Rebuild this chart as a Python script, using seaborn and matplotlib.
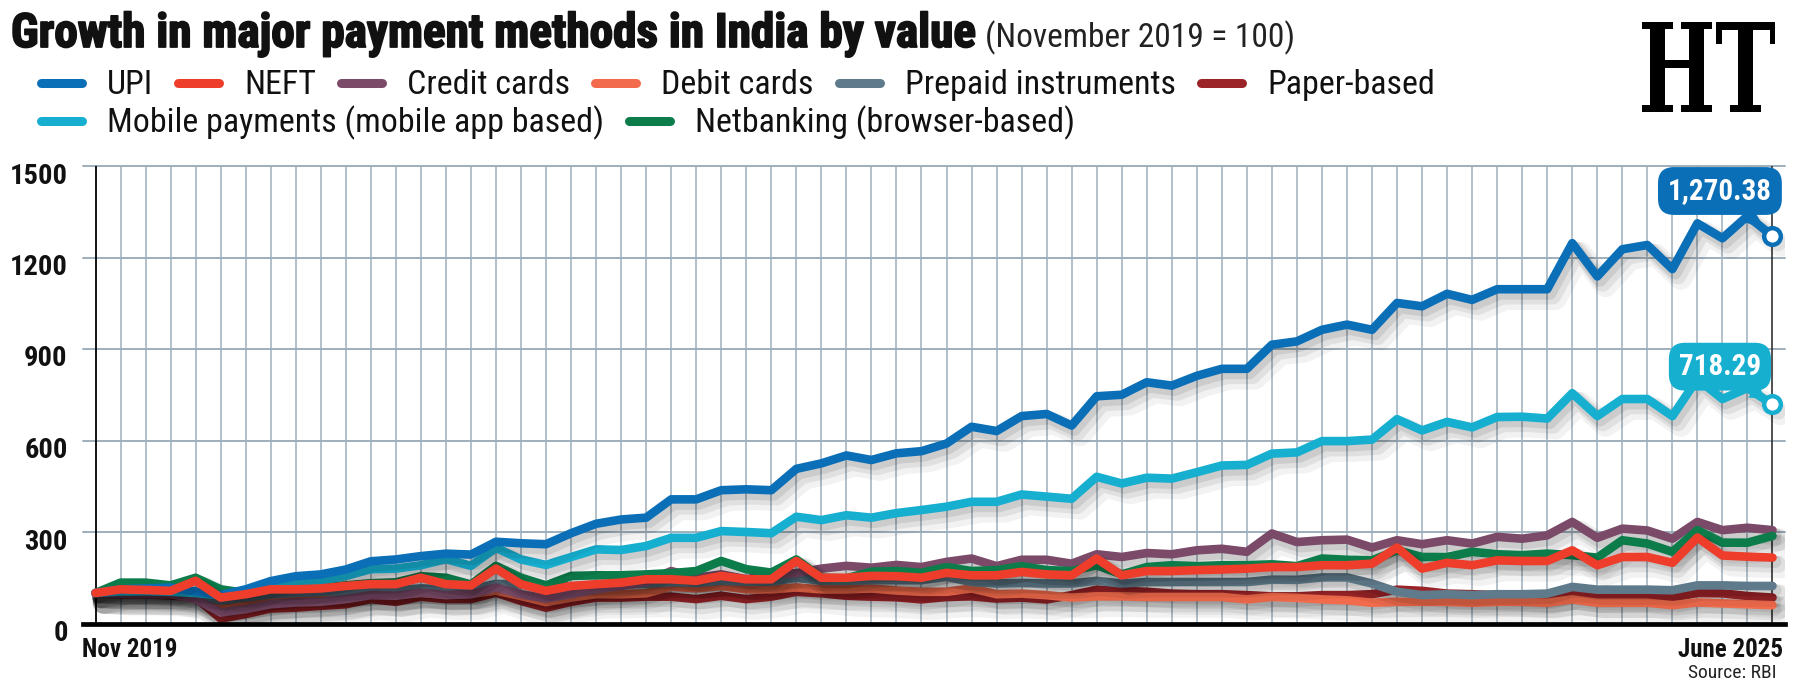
import numpy as np
import pandas as pd
import matplotlib
matplotlib.use("Agg")
import matplotlib.pyplot as plt
import matplotlib.patheffects as pe
import matplotlib.transforms as mtransforms
from matplotlib import font_manager
from matplotlib.lines import Line2D
from matplotlib.textpath import TextPath
from matplotlib.patches import PathPatch
import seaborn as sns

# monthly index, Nov 2019 = 100
months = pd.date_range("2019-11-01", "2025-06-01", freq="MS")

upi = [100, 112, 115, 118, 105, 93, 112, 139, 155, 161,
       177, 204, 210, 221, 229, 226, 268, 263, 260, 296,
       327, 341, 347, 407, 407, 437, 440, 437, 507, 525,
       551, 536, 558, 565, 590, 645, 631, 680, 687, 649,
       745, 750, 791, 780, 812, 835, 835, 914, 925, 963,
       980, 963, 1051, 1040, 1081, 1061, 1096, 1096, 1096, 1247,
       1138, 1227, 1241, 1162, 1312, 1263, 1336, 1270.38]
neft = [100, 112, 110, 107, 140, 85, 96, 112, 112, 115,
        123, 129, 129, 150, 129, 125, 180, 129, 107, 123,
        129, 134, 145, 145, 140, 156, 145, 145, 205, 150,
        150, 156, 155, 150, 166, 158, 158, 169, 161, 158,
        213, 158, 172, 172, 175, 177, 180, 185, 185, 191,
        191, 196, 249, 180, 199, 191, 207, 205, 205, 240,
        191, 218, 218, 199, 282, 223, 219, 216]
credit = [100, 96, 96, 96, 80, 36, 47, 63, 69, 71,
          80, 93, 91, 101, 93, 96, 118, 96, 82, 96,
          112, 123, 136, 172, 150, 161, 145, 161, 165, 180,
          189, 183, 192, 185, 202, 213, 188, 209, 209, 196,
          227, 218, 231, 227, 240, 245, 235, 295, 267, 273,
          275, 249, 273, 260, 273, 262, 284, 278, 289, 333,
          281, 311, 305, 278, 333, 306, 314, 306]
debit = [100, 98, 98, 97, 90, 55, 65, 78, 85, 88,
         90, 95, 95, 100, 95, 97, 108, 90, 70, 85,
         96, 96, 99, 121, 115, 123, 112, 112, 118, 112,
         112, 115, 108, 104, 104, 115, 96, 98, 93, 85,
         89, 89, 87, 87, 87, 87, 79, 87, 84, 79,
         76, 68, 71, 71, 71, 68, 71, 71, 68, 79,
         68, 68, 68, 60, 69, 66, 63, 60]
prepaid = [100, 100, 98, 97, 95, 75, 85, 95, 100, 103,
           105, 110, 110, 115, 112, 112, 130, 128, 120, 122,
           125, 128, 130, 135, 133, 140, 137, 137, 150, 140,
           140, 142, 142, 142, 153, 136, 131, 133, 131, 131,
           140, 131, 136, 136, 136, 136, 136, 144, 143, 151,
           151, 131, 104, 93, 96, 93, 96, 96, 98, 120,
           111, 111, 111, 109, 125, 125, 123, 123]
paper = [100, 95, 95, 92, 85, 16, 31, 49, 52, 58,
         63, 80, 71, 88, 80, 80, 101, 74, 52, 71,
         85, 85, 88, 88, 80, 91, 80, 88, 104, 99,
         91, 88, 86, 79, 87, 89, 82, 85, 79, 93,
         111, 107, 104, 98, 96, 96, 93, 89, 89, 93,
         93, 96, 111, 107, 98, 96, 93, 89, 85, 96,
         85, 87, 87, 85, 100, 99, 90, 85]
mobile = [100, 105, 106, 104, 100, 92, 105, 118, 128, 140,
          156, 178, 180, 191, 211, 189, 248, 210, 192, 218,
          243, 241, 254, 281, 281, 303, 300, 296, 350, 339,
          355, 347, 362, 372, 383, 399, 399, 423, 416, 409,
          481, 459, 478, 475, 496, 518, 520, 557, 561, 598,
          598, 603, 670, 633, 661, 643, 677, 678, 672, 755,
          680, 736, 736, 680, 802, 736, 772, 718.29]
netbanking = [100, 134, 134, 125, 150, 112, 100, 112, 115, 118,
              125, 132, 135, 155, 150, 128, 189, 150, 125, 156,
              158, 158, 161, 165, 172, 205, 178, 167, 210, 150,
              148, 170, 172, 166, 185, 172, 175, 188, 175, 172,
              191, 161, 185, 191, 188, 191, 191, 194, 188, 213,
              209, 207, 240, 218, 218, 235, 227, 224, 229, 224,
              216, 273, 262, 235, 306, 265, 265, 287]

names = ["UPI", "NEFT", "Credit cards", "Debit cards", "Prepaid instruments",
         "Paper-based", "Mobile payments (mobile app based)",
         "Netbanking (browser-based)"]
values = [upi, neft, credit, debit, prepaid, paper, mobile, netbanking]
colors = ["#0b6fb8", "#ee3e2b", "#7a4a68", "#f26b4c", "#5f7a8a",
          "#9a2428", "#17afd0", "#0b7c4a"]
palette = dict(zip(names, colors))
draw_order = ["Paper-based", "Debit cards", "Prepaid instruments", "Credit cards",
              "Netbanking (browser-based)", "Mobile payments (mobile app based)",
              "UPI", "NEFT"]

df = pd.concat([pd.DataFrame({"month": np.arange(len(months)), "value": v, "series": n})
                for n, v in zip(names, values)], ignore_index=True)

sns.set_theme(style="white")
avail = {f.name for f in font_manager.fontManager.ttflist}
cond = next((n for n in ["Liberation Sans Narrow", "Roboto Condensed", "Open Sans Condensed"]
             if n in avail), "DejaVu Sans")
plt.rcParams["font.family"] = [cond, "DejaVu Sans"]

W, H = 1807, 696
fig = plt.figure(figsize=(W / 100, H / 100), dpi=100)
y0, y1500 = 623.5, 166
ax = fig.add_axes([83 / W, (H - y0) / H, (1785 - 83) / W, (y0 - y1500) / H])

sns.lineplot(data=df, x="month", y="value", hue="series", hue_order=draw_order,
             palette=palette, linewidth=6.2, legend=False, ax=ax)

shadow = [pe.SimpleLineShadow(offset=(2, -3), shadow_color="black", alpha=0.09, linewidth=9),
          pe.SimpleLineShadow(offset=(4, -5), shadow_color="black", alpha=0.07, linewidth=12),
          pe.SimpleLineShadow(offset=(6, -7), shadow_color="black", alpha=0.05, linewidth=16),
          pe.Normal()]
for ln in ax.lines:
    ln.set_solid_joinstyle("round")
    ln.set_solid_capstyle("round")
    ln.set_path_effects(shadow)

n = len(months) - 1
ax.set_xlim(-0.5, n + 0.5)
ax.set_ylim(0, 1500)
ax.set_xlabel("")
ax.set_ylabel("")

# grid
grid_c = "#9eafbc"
ax.set_xticks(np.arange(len(months)), minor=True)
ax.grid(which="minor", axis="x", color=grid_c, linewidth=1.1)
ax.set_yticks(np.arange(0, 1501, 300))
ax.grid(which="major", axis="y", color=grid_c, linewidth=1.4)
for gl in ax.get_ygridlines():
    gl.set_clip_on(False)
ax.set_axisbelow(True)
ax.tick_params(axis="x", which="minor", length=0)

for s in ["top", "right", "left"]:
    ax.spines[s].set_visible(False)
ax.spines["bottom"].set_linewidth(3.4)
ax.spines["bottom"].set_color("black")
ax.axvline(0, color="black", linewidth=1.3, zorder=1.5)
ax.axvline(n, color="#222222", linewidth=1.1, zorder=1.5)

ax.set_xticks([0, n])
ax.set_xticklabels(["", ""])
ax.tick_params(axis="x", which="major", length=7, width=1.4, color="black", direction="out")

ax.set_yticklabels([str(v) for v in range(0, 1501, 300)])
ax.tick_params(axis="y", length=0, pad=11, labelsize=20.5)
off = mtransforms.ScaledTranslation(0, -7 / 100, fig.dpi_scale_trans)
for lab in ax.get_yticklabels():
    lab.set_fontweight("bold")
    lab.set_color("#111111")
    lab.set_transform(lab.get_transform() + off)

ax.annotate("Nov 2019", xy=(0, 0), xycoords=("data", "axes fraction"),
            xytext=(-10, -24), textcoords="offset points", ha="left", va="baseline",
            fontsize=18, fontweight="bold", color="#111111")
ax.annotate("June 2025", xy=(n, 0), xycoords=("data", "axes fraction"),
            xytext=(8, -24), textcoords="offset points", ha="right", va="baseline",
            fontsize=18, fontweight="bold", color="#111111")
fig.text(1776 / W, 1 - 678 / H, "Source: RBI", ha="right", va="baseline",
         fontsize=14, color="#222222")

# end-point callouts
for vals, col, label, ty in [(upi, colors[0], "1,270.38", 1418), (mobile, colors[6], "718.29", 842)]:
    ax.annotate(label, xy=(n, vals[-1]), xytext=(n - 2.1, ty), textcoords="data",
                ha="center", va="center", fontsize=21, fontweight="bold", color="white",
                bbox=dict(boxstyle="round,pad=0.34,rounding_size=0.55", fc=col, ec="none"),
                arrowprops=dict(arrowstyle="wedge,tail_width=0.6,shrink_factor=0.4",
                                fc=col, ec="none", shrinkA=0, shrinkB=5),
                zorder=6, annotation_clip=False)
    ax.plot([n], [vals[-1]], marker="o", ms=12, mfc="white", mec=col, mew=3.2,
            zorder=7, clip_on=False)

# title
title = fig.text(11 / W, 1 - 47 / H, "Growth in major payment methods in India by value",
                 fontsize=34, fontweight="bold", color="#111111", va="baseline",
                 path_effects=[pe.withStroke(linewidth=1.3, foreground="#111111")])
fig.canvas.draw()
r = fig.canvas.get_renderer()
bb = title.get_window_extent(r)
fig.text((bb.x1 + 10) / W, 1 - 47 / H, "(November 2019 = 100)", fontsize=24,
         color="#222222", va="baseline")

# legend, flowed in two rows
rows = [(names[:6], colors[:6], 94), (names[6:], colors[6:], 132)]
for row_names, row_cols, base in rows:
    x = 37
    for nm, col in zip(row_names, row_cols):
        yc = 1 - (base - 11) / H
        fig.add_artist(Line2D([(x + 4) / W, (x + 45) / W], [yc, yc], color=col, linewidth=6.5,
                              solid_capstyle="round", transform=fig.transFigure))
        t = fig.text((x + 70) / W, 1 - base / H, nm, fontsize=24.5, color="#111111",
                     va="baseline")
        tb = t.get_window_extent(r)
        x = tb.x1 + 21

# masthead (stretched serif as a stand-in for the blackletter logo)
tp = TextPath((0, 0), "HT", size=100,
              prop=font_manager.FontProperties(family="DejaVu Serif", weight="bold"))
ext = tp.get_extents()
logo_tf = (mtransforms.Affine2D().translate(-ext.x0, -ext.y0)
           .scale(133 / ext.width / W, 90 / ext.height / H)
           .translate(1642 / W, (H - 112) / H) + fig.transFigure)
fig.add_artist(PathPatch(tp, transform=logo_tf, fc="black", ec="none"))

fig.savefig("out.png", dpi=100, facecolor="white")
